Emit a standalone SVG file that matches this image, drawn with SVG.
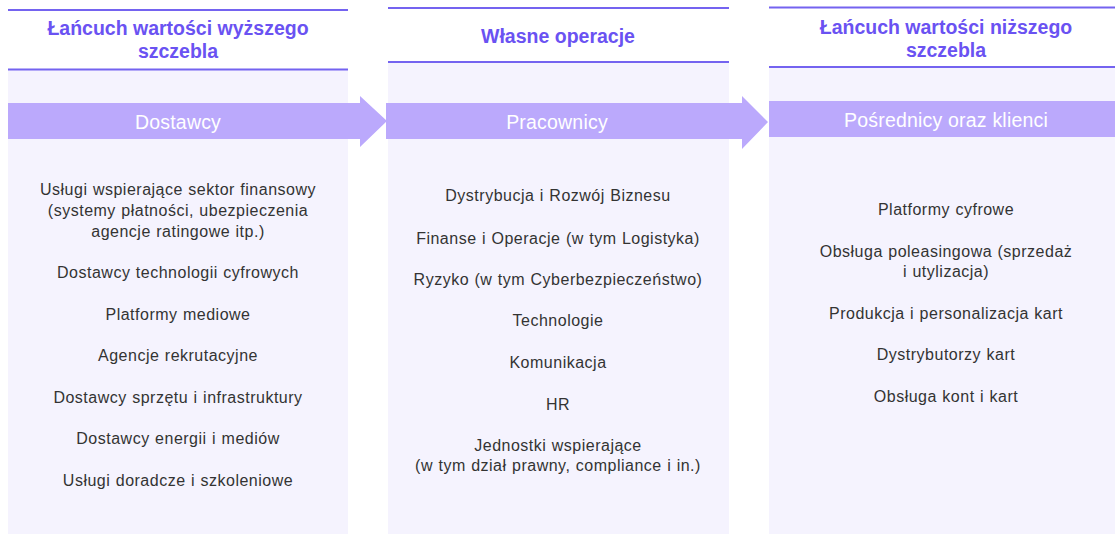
<svg xmlns="http://www.w3.org/2000/svg" width="1115" height="534" viewBox="0 0 1115 534">
  <style>
    .panel { fill: #F5F3FE; }
    .rule { stroke: #7463F0; stroke-width: 2; fill: none; }
    .band { fill: #BBA9FC; }
    .head { font-family: "Liberation Sans", Arial, sans-serif; font-weight: bold; font-size: 19.5px; fill: #6A52F2; text-anchor: middle; }
    .bandtxt { font-family: "Liberation Sans", Arial, sans-serif; font-size: 19.5px; letter-spacing: 0.2px; fill: #FFFFFF; text-anchor: middle; }
    .item { font-family: "Liberation Sans", Arial, sans-serif; font-size: 16px; letter-spacing: 0.5px; word-spacing: 0.5px; fill: #333333; text-anchor: middle; }
  </style>
  <rect width="1115" height="534" fill="#FFFFFF"/>

  <!-- Upstream value chain -->
  <g id="upstream">
    <rect class="panel" x="8" y="70" width="340" height="464"/>
    <line class="rule" x1="8" y1="10" x2="348" y2="10"/>
    <line class="rule" x1="8" y1="69.5" x2="348" y2="69.5"/>
    <text class="head" x="178" y="35">Łańcuch wartości wyższego</text>
    <text class="head" x="178" y="58">szczebla</text>
  </g>

  <!-- Own operations -->
  <g id="own-operations">
    <rect class="panel" x="388" y="62" width="341" height="472"/>
    <line class="rule" x1="388" y1="8" x2="729" y2="8"/>
    <line class="rule" x1="388" y1="62" x2="729" y2="62"/>
    <text class="head" x="558" y="43">Własne operacje</text>
  </g>

  <!-- Downstream value chain -->
  <g id="downstream">
    <rect class="panel" x="769" y="67" width="346" height="467"/>
    <line class="rule" x1="769" y1="7.5" x2="1115" y2="7.5"/>
    <line class="rule" x1="769" y1="67" x2="1115" y2="67"/>
    <text class="head" x="946" y="34">Łańcuch wartości niższego</text>
    <text class="head" x="946" y="57">szczebla</text>
  </g>

  <!-- Flow bands with arrow heads -->
  <g id="connectors">
    <path class="band" d="M8,103 H360 V96 L387,121 L360,147 V139 H8 Z"/>
    <path class="band" d="M386,103 H742 V96 L768,122 L742,149 V139 H386 Z"/>
    <rect class="band" x="769" y="101" width="346" height="36"/>
  </g>

  <g id="band-labels">
    <text class="bandtxt" x="178" y="128.5">Dostawcy</text>
    <text class="bandtxt" x="557" y="128.5">Pracownicy</text>
    <text class="bandtxt" x="946" y="126.5">Pośrednicy oraz klienci</text>
  </g>

  <g id="upstream-items">
    <text class="item" x="178" y="194.5">Usługi wspierające sektor finansowy</text>
    <text class="item" x="178" y="215.5">(systemy płatności, ubezpieczenia</text>
    <text class="item" x="178" y="236.5">agencje ratingowe itp.)</text>
    <text class="item" x="178" y="277.5">Dostawcy technologii cyfrowych</text>
    <text class="item" x="178" y="319.5">Platformy mediowe</text>
    <text class="item" x="178" y="360.5">Agencje rekrutacyjne</text>
    <text class="item" x="178" y="402.5">Dostawcy sprzętu i infrastruktury</text>
    <text class="item" x="178" y="443.5">Dostawcy energii i mediów</text>
    <text class="item" x="178" y="485.5">Usługi doradcze i szkoleniowe</text>
  </g>

  <g id="own-items">
    <text class="item" x="558" y="200.5">Dystrybucja i Rozwój Biznesu</text>
    <text class="item" x="558" y="243.5">Finanse i Operacje (w tym Logistyka)</text>
    <text class="item" x="558" y="284.5">Ryzyko (w tym Cyberbezpieczeństwo)</text>
    <text class="item" x="558" y="325.5">Technologie</text>
    <text class="item" x="558" y="367.5">Komunikacja</text>
    <text class="item" x="558" y="409.5">HR</text>
    <text class="item" x="558" y="450.5">Jednostki wspierające</text>
    <text class="item" x="558" y="470.5">(w tym dział prawny, compliance i in.)</text>
  </g>

  <g id="downstream-items">
    <text class="item" x="946" y="214.5">Platformy cyfrowe</text>
    <text class="item" x="946" y="256.5">Obsługa poleasingowa (sprzedaż</text>
    <text class="item" x="946" y="276.5">i utylizacja)</text>
    <text class="item" x="946" y="318.5">Produkcja i personalizacja kart</text>
    <text class="item" x="946" y="359.5">Dystrybutorzy kart</text>
    <text class="item" x="946" y="401.5">Obsługa kont i kart</text>
  </g>
</svg>
